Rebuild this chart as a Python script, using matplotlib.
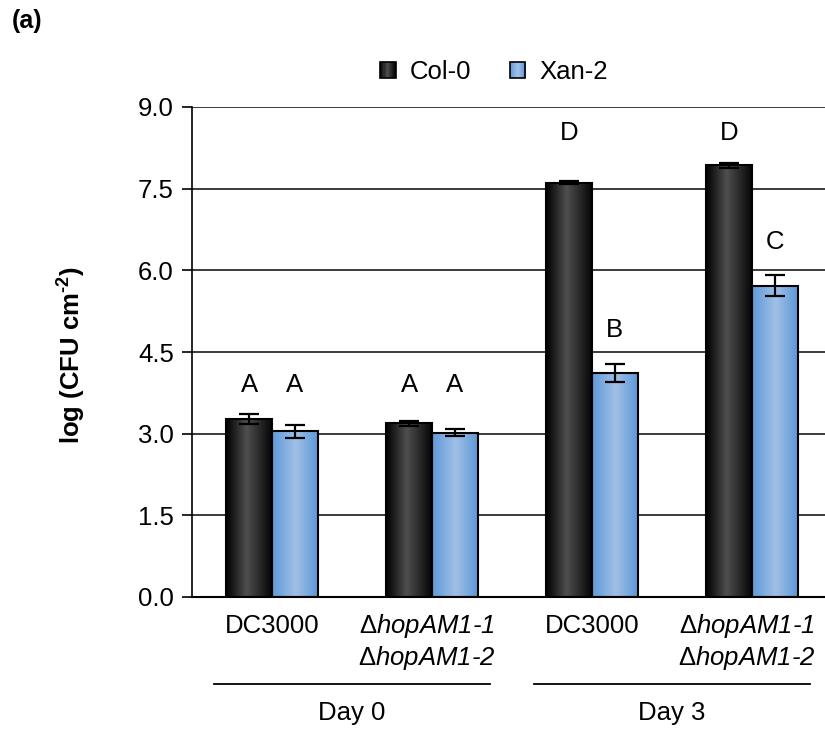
import numpy as np
import matplotlib
matplotlib.use('Agg')
import matplotlib.pyplot as plt
from matplotlib.colors import LinearSegmentedColormap
from matplotlib.patches import Patch, Rectangle
from matplotlib.legend_handler import HandlerBase
import matplotlib.transforms as mtransforms

plt.rcParams['font.family'] = ['Liberation Sans', 'DejaVu Sans']
plt.rcParams['mathtext.fontset'] = 'custom'
plt.rcParams['mathtext.rm'] = 'Liberation Sans'
plt.rcParams['mathtext.it'] = 'Liberation Sans:italic'
plt.rcParams['mathtext.bf'] = 'Liberation Sans:bold'

# data
strains = ['DC3000', 'hopAM1', 'DC3000', 'hopAM1']
days = ['Day 0', 'Day 3']
col0 = [3.27, 3.19, 7.61, 7.93]
col0_err = [0.09, 0.045, 0.03, 0.05]
xan2 = [3.04, 3.02, 4.11, 5.72]
xan2_err = [0.12, 0.06, 0.17, 0.19]
col0_letters = ['A', 'A', 'D', 'D']
xan2_letters = ['A', 'A', 'B', 'C']
letter_height = {'A': 3.89, 'B': 4.90, 'C': 6.52, 'D': 8.53}

fs = 18.5
fig = plt.figure(figsize=(8.25, 7.3), dpi=100)
ax = fig.add_axes([192/825, 133/730, 1 - 192/825, 490/730])

x = np.arange(len(strains))
w = 0.285

black_cm = LinearSegmentedColormap.from_list('blk', [(0, '#000000'), (0.45, '#4f4f4f'), (1, '#060606')])
blue_cm = LinearSegmentedColormap.from_list('blu', [(0, '#5f99d9'), (0.52, '#a0c0e6'), (1, '#5e97d7')])
grad = np.linspace(0, 1, 128).reshape(1, -1)

def shade(bars, cmap):
    for b in bars:
        bx, by = b.get_xy()
        ax.imshow(grad, cmap=cmap, aspect='auto', origin='lower',
                  extent=[bx, bx + b.get_width(), by, by + b.get_height()], zorder=2.5)

# legend marker with the same cylinder shading
class GradHandler(HandlerBase):
    def __init__(self, cmap):
        super().__init__()
        self.cmap = cmap

    def create_artists(self, legend, orig_handle, xdescent, ydescent, width, height, fontsize, trans):
        n = 14
        arts = []
        for k in range(n):
            arts.append(Rectangle((-xdescent + width*k/n, -ydescent), width/n + 0.3, height,
                                  facecolor=self.cmap((k + 0.5)/n), edgecolor='none', transform=trans))
        arts.append(Rectangle((-xdescent, -ydescent), width, height, fill=False,
                              edgecolor='black', lw=1.2, transform=trans))
        return arts

b1 = ax.bar(x - w/2, col0, w, facecolor='none', edgecolor='black', lw=1.5, zorder=3)
b2 = ax.bar(x + w/2, xan2, w, facecolor='none', edgecolor='black', lw=1.5, zorder=3)
shade(b1, black_cm)
shade(b2, blue_cm)

ax.errorbar(x - w/2, col0, yerr=col0_err, fmt='none', ecolor='black', elinewidth=1.6,
            capsize=7, capthick=1.6, zorder=4)
ax.errorbar(x + w/2, xan2, yerr=xan2_err, fmt='none', ecolor='black', elinewidth=1.6,
            capsize=7, capthick=1.6, zorder=4)

for i in range(len(strains)):
    ax.text(x[i] - w/2, letter_height[col0_letters[i]], col0_letters[i], ha='center', va='center', fontsize=fs)
    ax.text(x[i] + w/2, letter_height[xan2_letters[i]], xan2_letters[i], ha='center', va='center', fontsize=fs)

ax.set_xlim(-0.5, -0.5 + 633/160)
ax.set_ylim(0, 9)
ax.set_yticks(np.arange(0, 9.1, 1.5))
ax.set_yticklabels(['%.1f' % v for v in np.arange(0, 9.1, 1.5)], fontsize=fs)
ax.tick_params(axis='y', length=7, width=1.2, pad=6, direction='out')
ax.set_xticks([])
ax.yaxis.grid(True, color='#1a1a1a', lw=1.2)
ax.set_axisbelow(True)
for s in ['top', 'right']:
    ax.spines[s].set_visible(False)
ax.spines['left'].set_linewidth(1.2)
ax.spines['bottom'].set_linewidth(1.5)

# category labels under the axis
trans = mtransforms.blended_transform_factory(ax.transData, ax.transAxes)
for i, s in enumerate(strains):
    if s == 'DC3000':
        ax.text(x[i], -0.0735, s, transform=trans, ha='center', va='baseline', fontsize=fs)
    else:
        ax.text(x[i] - 0.03, -0.0735, r'$\Delta$' + s + '-1', transform=trans, ha='center',
                va='baseline', fontsize=fs, style='italic')
        ax.text(x[i] - 0.03, -0.1388, r'$\Delta$' + s + '-2', transform=trans, ha='center',
                va='baseline', fontsize=fs, style='italic')

for j, d in enumerate(days):
    left, right = x[2*j] - 0.3625, x[2*j + 1] + 0.36
    ax.plot([left, right], [-0.1776, -0.1776], color='black', lw=1.3, transform=trans, clip_on=False)
    ax.text((left + right) / 2, -0.251, d, transform=trans, ha='center', va='baseline', fontsize=fs)

fig.text(72/825, 1 - 355/730, 'log (CFU cm$^{\\mathbf{\u2010}\\mathbf{2}}$)', rotation=90, ha='center',
         va='center', fontsize=fs, fontweight='bold')
fig.text(12/825, 1 - 9/730, '(a)', ha='left', va='top', fontsize=18, fontweight='bold')

handles = [Patch(label='Col-0'), Patch(label='Xan-2')]
fig.legend(handles=handles, loc='center', bbox_to_anchor=(494/825, 1 - 72/730), ncol=2,
           frameon=False, fontsize=fs, handlelength=0.6, handleheight=0.6,
           handletextpad=0.55, columnspacing=1.5,
           handler_map={handles[0]: GradHandler(black_cm), handles[1]: GradHandler(blue_cm)})

fig.savefig('out.png', dpi=100)
